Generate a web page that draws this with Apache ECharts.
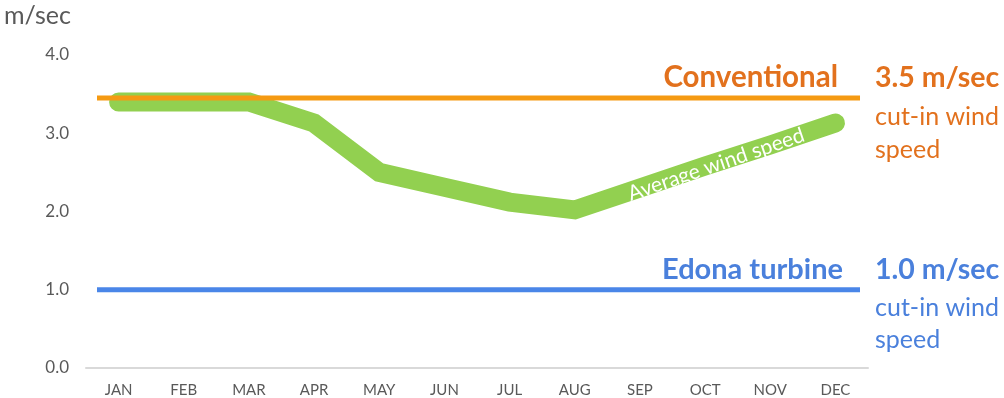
<!DOCTYPE html>
<html><head><meta charset="utf-8">
<script src="https://cdn.jsdelivr.net/npm/echarts@6/dist/echarts.min.js"></script>
<style>html,body{margin:0;padding:0;background:#fff;}#c{width:1004px;height:398px;}</style>
</head><body><div id="c"></div>
<script>
const months = ['JAN','FEB','MAR','APR','MAY','JUN','JUL','AUG','SEP','OCT','NOV','DEC'];
const avgWind = [3.40, 3.40, 3.40, 3.13, 2.50, 2.31, 2.12, 2.02, 2.30, 2.58, 2.85, 3.13];
const conventional = [3.45, 3.45];
const edona = [1.0, 1.0];
const yTicks = [0, 1, 2, 3, 4];

const FONT = 'Lato';
const chart = echarts.init(document.getElementById('c'));
const option = {
  animation: false,
  textStyle: { fontFamily: FONT },
  grid: [
    { left: 86, right: 136, top: 55, bottom: 30 },
    { left: 97, right: 144, top: 55, bottom: 30 }
  ],
  xAxis: [
    { type: 'category', gridIndex: 0, data: months, boundaryGap: true,
      axisLine: { lineStyle: { color: '#D9D9D9', width: 2 } },
      axisTick: { show: false },
      axisLabel: { color: '#595959', fontSize: 15, margin: 15, fontFamily: FONT } },
    { type: 'value', gridIndex: 1, min: 0, max: 1, show: false }
  ],
  yAxis: [
    { type: 'value', gridIndex: 0, min: yTicks[0], max: yTicks[yTicks.length - 1], interval: 1,
      axisLine: { show: false }, axisTick: { show: false }, splitLine: { show: false },
      axisLabel: { color: '#595959', fontSize: 17, margin: 17, fontFamily: FONT,
        formatter: v => v.toFixed(1) } },
    { type: 'value', gridIndex: 1, min: yTicks[0], max: yTicks[yTicks.length - 1], show: false }
  ],
  series: [
    { type: 'line', xAxisIndex: 1, yAxisIndex: 1, data: [[0, conventional[0]], [1, conventional[1]]],
      symbol: 'none', lineStyle: { color: '#F59A12', width: 5 }, z: 3 },
    { type: 'line', xAxisIndex: 1, yAxisIndex: 1, data: [[0, edona[0]], [1, edona[1]]],
      symbol: 'none', lineStyle: { color: '#4A86E8', width: 5 }, z: 3 },
    { type: 'line', xAxisIndex: 0, yAxisIndex: 0, data: avgWind, symbol: 'none',
      lineStyle: { color: '#92D050', width: 19, cap: 'round', join: 'miter' }, z: 2 }
  ]
};
chart.setOption(option);

const orangeT = '#E2711D', blueT = '#4A80DC';
function txt(x, y, s, size, color, weight, align) {
  return { type: 'text', x: x, y: y, z: 100, style: { text: s, fontSize: size, fill: color,
    fontWeight: weight || 'normal', fontFamily: FONT, align: align || 'left', verticalAlign: 'middle' } };
}
const pA = chart.convertToPixel({ xAxisIndex: 0, yAxisIndex: 0 }, [9, 2.60]);
const pB = chart.convertToPixel({ xAxisIndex: 0, yAxisIndex: 0 }, [10, 2.60]);
const mid = [pA[0] + 0.17 * (pB[0] - pA[0]), pA[1]];
chart.setOption({
  graphic: [
    txt(4, 16, 'm/sec', 25, '#595959'),
    txt(838, 77, 'Conventional', 29.5, orangeT, 'bold', 'right'),
    txt(875, 78, '3.5 m/sec', 28.5, orangeT, 'bold'),
    txt(875, 117, 'cut-in wind', 25, orangeT),
    txt(875, 150, 'speed', 25, orangeT),
    txt(843, 270, 'Edona turbine', 29, blueT, 'bold', 'right'),
    txt(875, 270, '1.0 m/sec', 28.5, blueT, 'bold'),
    txt(875, 308, 'cut-in wind', 25, blueT),
    txt(875, 340, 'speed', 25, blueT),
    { type: 'text', x: mid[0], y: mid[1], rotation: 19 * Math.PI / 180, z: 100,
      style: { text: 'Average wind speed', fontSize: 21, fill: '#FFFFFF', fontFamily: FONT,
        align: 'center', verticalAlign: 'middle' } }
  ]
});
</script></body></html>
